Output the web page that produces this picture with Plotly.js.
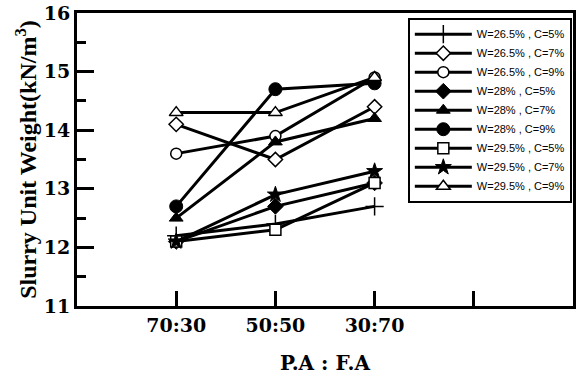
<!DOCTYPE html>
<html>
<head>
<meta charset="utf-8">
<script src="https://cdn.plot.ly/plotly-3.0.1.min.js"></script>
<style>html,body{margin:0;padding:0;background:#fff;}#chart{width:576px;height:376px;}</style>
</head>
<body>
<div id="chart"></div>
<script>
const categories = ['70:30', '50:50', '30:70'];
const seriesNames = [
  'W=26.5% , C=5%', 'W=26.5% , C=7%', 'W=26.5% , C=9%',
  'W=28% , C=5%', 'W=28% , C=7%', 'W=28% , C=9%',
  'W=29.5% , C=5%', 'W=29.5% , C=7%', 'W=29.5% , C=9%'
];
const w265c5 = [12.2, 12.4, 12.7];
const w265c7 = [14.1, 13.5, 14.4];
const w265c9 = [13.6, 13.9, 14.9];
const w28c5  = [12.1, 12.7, 13.1];
const w28c7  = [12.5, 13.8, 14.2];
const w28c9  = [12.7, 14.7, 14.8];
const w295c5 = [12.1, 12.3, 13.1];
const w295c7 = [12.1, 12.9, 13.3];
const w295c9 = [14.3, 14.3, 14.9];
const seriesValues = [w265c5, w265c7, w265c9, w28c5, w28c7, w28c9, w295c5, w295c7, w295c9];
const yTickVals = [11, 12, 13, 14, 15, 16];

const markerStyles = [
  {symbol: 'cross-thin', size: 13, color: '#000', line: {color: '#000', width: 1.5}},
  {symbol: 'diamond', size: 11, color: '#fff', line: {color: '#000', width: 1.5}},
  {symbol: 'circle', size: 11, color: '#fff', line: {color: '#000', width: 1.5}},
  {symbol: 'diamond', size: 12, color: '#000', line: {color: '#000', width: 1}},
  {symbol: 'triangle-up', size: 12, color: '#000', line: {color: '#000', width: 1}},
  {symbol: 'circle', size: 13, color: '#000', line: {color: '#000', width: 1}},
  {symbol: 'square', size: 11, color: '#fff', line: {color: '#000', width: 1.5}},
  {symbol: 'star', size: 12, color: '#000', line: {color: '#000', width: 1}},
  {symbol: 'triangle-up', size: 12, color: '#fff', line: {color: '#000', width: 1.5}}
];

const xPos = categories.map((c, i) => i + 1);
const traces = seriesValues.map((vals, i) => ({
  type: 'scatter',
  mode: 'lines+markers',
  x: xPos,
  y: vals,
  name: seriesNames[i],
  line: {color: '#000', width: 3},
  marker: markerStyles[i],
  cliponaxis: false
}));

const layout = {
  width: 576, height: 376,
  margin: {l: 77, r: 3, t: 13, b: 70},
  paper_bgcolor: '#fff', plot_bgcolor: '#fff',
  showlegend: true,
  xaxis: {
    range: [0, 5],
    tickvals: xPos, ticktext: categories,
    ticks: 'inside', ticklen: 15, tickwidth: 3, tickcolor: '#000',
    minor: {dtick: 1, tick0: 0, ticks: 'inside', ticklen: 15, tickwidth: 3, tickcolor: '#000', showgrid: false},
    showline: true, linewidth: 3, linecolor: '#000', mirror: true,
    showgrid: false, zeroline: false,
    tickfont: {family: 'DejaVu Serif', size: 19, color: '#000', weight: 'bold'},
    title: {text: 'P.A : F.A', font: {family: 'DejaVu Serif', size: 20, color: '#000', weight: 'bold'}, standoff: 22}
  },
  yaxis: {
    range: [11, 16],
    tickvals: yTickVals,
    ticks: 'inside', ticklen: 17, tickwidth: 3, tickcolor: '#000',
    minor: {dtick: 0.5, ticks: 'inside', ticklen: 9, tickwidth: 3, tickcolor: '#000', showgrid: false},
    showline: true, linewidth: 3, linecolor: '#000', mirror: true,
    showgrid: false, zeroline: false,
    tickfont: {family: 'DejaVu Serif', size: 19, color: '#000', weight: 'bold'},
    title: {text: 'Slurry Unit Weight(kN/m<sup>3</sup>)', font: {family: 'Liberation Serif', size: 24, color: '#000', weight: 'bold'}, standoff: 1}
  },
  legend: {
    x: 0.667, y: 0.984, xanchor: 'left', yanchor: 'top',
    bgcolor: '#fff', bordercolor: '#000', borderwidth: 2,
    font: {family: 'Liberation Sans', size: 11, color: '#000'},
    itemwidth: 57, tracegroupgap: 0
  }
};

Plotly.newPlot('chart', traces, layout, {displayModeBar: false, staticPlot: true});
</script>
</body>
</html>
